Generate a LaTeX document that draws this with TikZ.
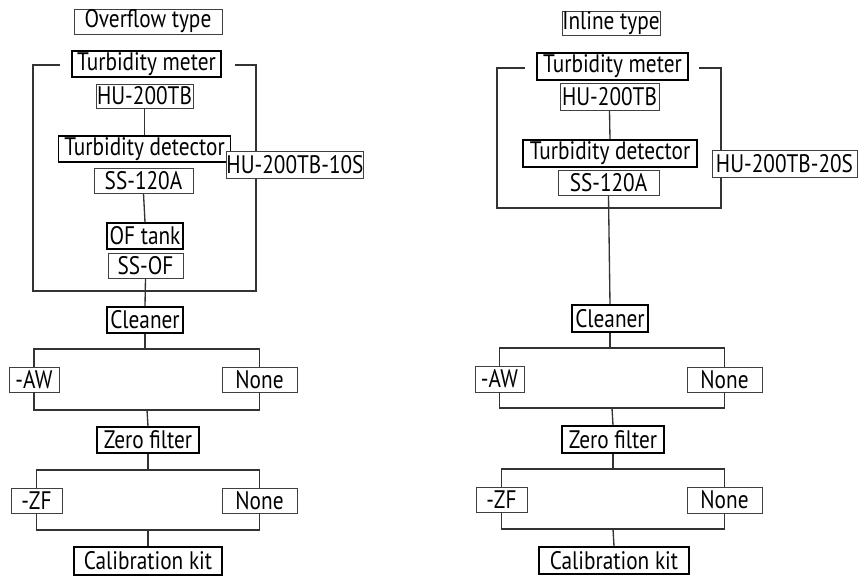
\documentclass[tikz,border=0pt]{standalone}
\usepackage{fontspec}
\setmainfont{PT Sans}[FakeStretch=0.84]
\begin{document}
\begin{tikzpicture}[x=0.75pt,y=-0.75pt,
  font=\fontsize{19}{22}\selectfont,
  box/.style n args={2}{draw=black!75,line width=0.7pt,fill=white,inner sep=0pt,
     minimum width=#1*0.75pt,minimum height=#2*0.75pt,anchor=center},
  bbox/.style n args={2}{box={#1}{#2},draw=black,line width=1.3pt},
  ln/.style={draw=black!80,line width=1pt}]
\useasboundingbox (0,0) rectangle (858,577);
% ---------- left: overflow type ----------
\coordinate (lbtl) at (60,65);
\coordinate (lbtr) at (235,65);
\draw[ln] (lbtl) -- (33,65) -- (33,291) -- (256,291) -- (256,65) -- (lbtr);
\node[box={148}{25}] (ovt) at (148,21.5) {Overflow type};
\node[bbox={149}{26}] (tm1) at (146.5,64) {Turbidity meter};
\node[box={97}{24}] (hu1) at (144.5,96) {HU-200TB};
\node[bbox={172}{26}] (td1) at (144.5,149) {Turbidity detector};
\node[box={99}{25}] (ss1) at (143.5,180.5) {SS-120A};
\node[bbox={76}{26}] (of1) at (145,236) {OF tank};
\node[box={75}{25}] (sof1) at (145.5,265.5) {SS-OF};
\node[box={97}{27}] (hs1) at (295,164.5) {HU-200TB-10S};
\node[bbox={76}{26}] (cl1) at (145,320) {Cleaner};
\node[box={50}{25}] (aw1) at (34,379.5) {-AW};
\node[box={75}{25}] (no1) at (259.5,379.5) {None};
\node[bbox={102}{26}] (zf1) at (148,440) {Zero filter};
\node[box={51}{25}] (zfa1) at (36.5,500.5) {-ZF};
\node[box={75}{25}] (no1b) at (259.5,500.5) {None};
\node[bbox={148}{28}] (ck1) at (148,561) {Calibration kit};
\draw[ln] (hu1.south) -- (td1.north);
\draw[ln] (ss1.south) -- (of1.north);
\draw[ln] (sof1.south) -- (cl1.north);
\coordinate (b1) at (147,349);
\coordinate (m1) at (147,410);
\coordinate (b2) at (148,470);
\coordinate (m2) at (148,530);
\draw[ln] (cl1.south) -- (cl1.south |- b1);
\draw[ln] (aw1.north) |- (no1.north |- b1) -- (no1.north);
\draw[ln] (aw1.south) |- (no1.south |- m1) -- (no1.south);
\draw[ln] (m1) -- (zf1.north);
\draw[ln] (zf1.south) -- (zf1.south |- b2);
\draw[ln] (zfa1.north) |- (no1b.north |- b2) -- (no1b.north);
\draw[ln] (zfa1.south) |- (no1b.south |- m2) -- (no1b.south);
\draw[ln] (m2) -- (ck1.north);
% ---------- right: inline type ----------
\coordinate (rbtl) at (525,68);
\coordinate (rbtr) at (699,68);
\draw[ln] (rbtl) -- (497,68) -- (497,208) -- (721,208) -- (721,68) -- (rbtr);
\node[box={98}{23}] (ilt) at (611,23.5) {Inline type};
\node[bbox={151}{27}] (tm2) at (612.5,66.5) {Turbidity meter};
\node[box={99}{27}] (hu2) at (609.5,96.5) {HU-200TB};
\node[bbox={174}{27}] (td2) at (610,153.5) {Turbidity detector};
\node[box={101}{25}] (ss2) at (608.5,182.5) {SS-120A};
\node[box={145}{27}] (hs2) at (784.5,163.5) {HU-200TB-20S};
\node[bbox={76}{27}] (cl2) at (610,318.5) {Cleaner};
\node[box={49}{26}] (aw2) at (499.5,379) {-AW};
\node[box={75}{25}] (no2) at (724.5,379.5) {None};
\node[bbox={102}{27}] (zf2) at (613,439.5) {Zero filter};
\node[box={51}{25}] (zfa2) at (501.5,499.5) {-ZF};
\node[box={75}{26}] (no2b) at (724.5,500) {None};
\node[bbox={150}{27}] (ck2) at (614,560.5) {Calibration kit};
\draw[ln] (hu2.south) -- (td2.north);
\draw[ln] (ss2.south) -- (cl2.north);
\coordinate (b3) at (611,348);
\coordinate (m3) at (612,408);
\coordinate (b4) at (613,469);
\coordinate (m4) at (613,529);
\draw[ln] (cl2.south) -- (cl2.south |- b3);
\draw[ln] (aw2.north) |- (no2.north |- b3) -- (no2.north);
\draw[ln] (aw2.south) |- (no2.south |- m3) -- (no2.south);
\draw[ln] (m3) -- (zf2.north);
\draw[ln] (zf2.south) -- (zf2.south |- b4);
\draw[ln] (zfa2.north) |- (no2b.north |- b4) -- (no2b.north);
\draw[ln] (zfa2.south) |- (no2b.south |- m4) -- (no2b.south);
\draw[ln] (m4) -- (ck2.north);
\end{tikzpicture}
\end{document}
